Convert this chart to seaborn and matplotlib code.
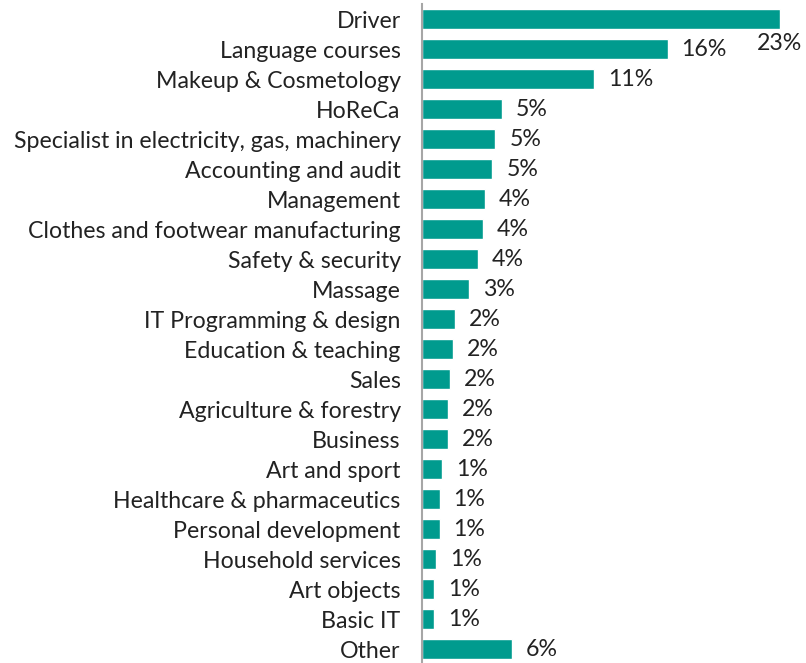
import matplotlib
matplotlib.use("Agg")
import matplotlib.pyplot as plt
import seaborn as sns
import pandas as pd

categories = [
    "Driver", "Language courses", "Makeup & Cosmetology", "HoReCa",
    "Specialist in electricity, gas, machinery", "Accounting and audit",
    "Management", "Clothes and footwear manufacturing", "Safety & security",
    "Massage", "IT Programming & design", "Education & teaching", "Sales",
    "Agriculture & forestry", "Business", "Art and sport",
    "Healthcare & pharmaceutics", "Personal development",
    "Household services", "Art objects", "Basic IT", "Other",
]
shares = [
    23.0, 15.8, 11.1, 5.14, 4.75, 4.56, 4.08, 3.92, 3.60, 3.05, 2.18,
    2.02, 1.83, 1.67, 1.67, 1.32, 1.16, 1.16, 0.96, 0.83, 0.83, 5.81,
]

df = pd.DataFrame({"category": categories, "share": shares})

sns.set_theme(style="white")
plt.rcParams["font.family"] = ["Lato", "DejaVu Sans"]

TEAL = "#009B8E"
TEXT = "#222222"
FS = 16.7

W, H = 806, 663
fig = plt.figure(figsize=(W / 100, H / 100), dpi=100)
ax = fig.add_axes([421.5 / W, -1.3 / H, (W - 421.5) / W, 660 / H])

sns.barplot(data=df, x="share", y="category", orient="h", color=TEAL,
            saturation=1, width=0.667, ax=ax)

ax.set_xlim(0, (W - 421.5) / 15.57)
ax.set_ylim(len(categories) - 0.5, -0.5)
ax.set_xlabel("")
ax.set_ylabel("")
ax.set_xticks([])

for side in ("top", "right", "bottom"):
    ax.spines[side].set_visible(False)
ax.spines["left"].set_color("#A6A6A6")
ax.spines["left"].set_linewidth(1.5)

ax.tick_params(axis="y", length=0, pad=15, labelsize=FS, labelcolor=TEXT)

for i, v in enumerate(shares):
    label = f"{round(v):.0f}%"
    if i == 0:
        # the longest bar's label sits just under its end
        ax.annotate(label, xy=(v, i), xytext=(-16.5, -17.5),
                    textcoords="offset points", ha="left", va="center",
                    fontsize=FS, color=TEXT)
    else:
        ax.annotate(label, xy=(v, i), xytext=(10, -0.5),
                    textcoords="offset points", ha="left", va="center",
                    fontsize=FS, color=TEXT)

fig.savefig("out.png", dpi=100)
